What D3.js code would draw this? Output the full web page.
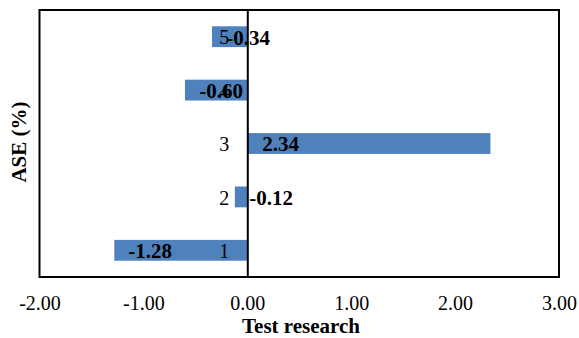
<!DOCTYPE html>
<html>
<head>
<meta charset="utf-8">
<script src="https://cdn.jsdelivr.net/npm/d3@7/dist/d3.min.js"></script>
<style>
  html, body { margin: 0; padding: 0; background: #fff; }
  svg { display: block; font-family: "Liberation Serif", "Times New Roman", serif; }
</style>
</head>
<body>
<svg id="chart" width="579" height="338"></svg>
<script>
// Test runs and their ASE values (%)
const categories = ["1", "2", "3", "4", "5"];
const aseValues = [-1.28, -0.12, 2.34, -0.60, -0.34];
const xTicks = [-2, -1, 0, 1, 2, 3];
const xTitle = "Test research";
const yTitle = "ASE (%)";

// Layout
const plot = { left: 39.5, right: 559, top: 10, bottom: 277 };
// horizontal offsets (px) of each value label's start, measured from the zero line
const labelNudge = [-119, 2, 15, -48, -21];

const svg = d3.select("#chart");

const x = d3.scaleLinear().domain([-2, 3]).range([plot.left, plot.right]);
const y = d3.scaleBand()
  .domain(categories.slice().reverse())
  .range([plot.top, plot.bottom])
  .paddingInner(0.61)
  .paddingOuter(0.305);

const rows = categories.map((c, i) => ({ cat: c, value: aseValues[i], nudge: labelNudge[i] }));

// Bars
svg.append("g").selectAll("rect")
  .data(rows)
  .join("rect")
  .attr("x", d => x(Math.min(0, d.value)))
  .attr("width", d => Math.abs(x(d.value) - x(0)))
  .attr("y", d => y(d.cat))
  .attr("height", y.bandwidth())
  .attr("fill", "#4f81bd");

// Plot frame
svg.append("rect")
  .attr("x", plot.left)
  .attr("y", plot.top)
  .attr("width", plot.right - plot.left)
  .attr("height", plot.bottom - plot.top)
  .attr("fill", "none")
  .attr("stroke", "#000")
  .attr("stroke-width", 2);

// Category axis sitting on the zero line
const catAxis = d3.axisLeft(y).tickSize(0).tickPadding(18);
const cg = svg.append("g")
  .attr("transform", `translate(${x(0)},0)`)
  .call(catAxis);
cg.select(".domain").attr("stroke", "#000").attr("stroke-width", 2);
cg.selectAll("text")
  .attr("font-family", "Liberation Serif, Times New Roman, serif")
  .attr("font-size", 20)
  .attr("fill", "#000")
  .attr("dy", "0.38em");

// Value axis (labels only)
const valAxis = d3.axisBottom(x).tickValues(xTicks).tickSize(0).tickPadding(0)
  .tickFormat(d3.format(".2f"));
const xg = svg.append("g")
  .attr("transform", `translate(0,${plot.bottom})`)
  .call(valAxis);
xg.select(".domain").remove();
xg.selectAll("text")
  .attr("font-family", "Liberation Serif, Times New Roman, serif")
  .attr("font-size", 20)
  .attr("fill", "#000")
  .attr("dy", null)
  .attr("y", 33)
  .text(d => d3.format(".2f")(d).replace("−", "-"));

// Value labels
svg.append("g").selectAll("text")
  .data(rows)
  .join("text")
  .attr("x", d => x(0) + d.nudge)
  .attr("y", d => y(d.cat) + y.bandwidth() / 2)
  .attr("dy", "0.38em")
  .attr("text-anchor", "start")
  .attr("font-size", 21)
  .attr("font-weight", "bold")
  .attr("fill", "#000")
  .text(d => d.value.toFixed(2));

// Axis titles
svg.append("text")
  .attr("x", 301)
  .attr("y", 333)
  .attr("text-anchor", "middle")
  .attr("font-size", 21)
  .attr("font-weight", "bold")
  .text(xTitle);

svg.append("text")
  .attr("transform", `translate(26,142) rotate(-90)`)
  .attr("text-anchor", "middle")
  .attr("font-size", 21)
  .attr("font-weight", "bold")
  .text(yTitle);
</script>
</body>
</html>
